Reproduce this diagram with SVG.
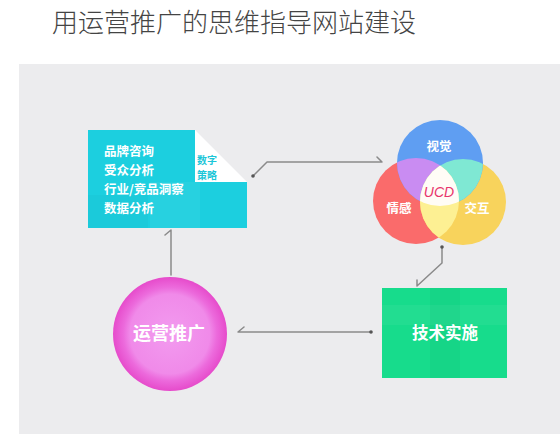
<svg xmlns="http://www.w3.org/2000/svg" width="560" height="440" viewBox="0 0 560 440">
  <style>
    .cjk { font-family: "Noto Sans CJK SC", "Noto Sans", sans-serif; }
    .wb { fill: #ffffff; font-weight: bold; }
    .conn { fill: none; stroke: #8a8a8a; stroke-width: 1.5; stroke-linecap: round; stroke-linejoin: round; }
    .dot { fill: #555555; }
  </style>
  <defs>
    <clipPath id="cR"><circle cx="416" cy="201" r="43"/></clipPath>
    <clipPath id="cY"><circle cx="463" cy="202" r="43"/></clipPath>
    <radialGradient id="pinkG" cx="0.5" cy="0.5" r="0.5">
      <stop offset="0" stop-color="#f29bef"/>
      <stop offset="0.7" stop-color="#f08ae9"/>
      <stop offset="0.82" stop-color="#ec6adc"/>
      <stop offset="1" stop-color="#e64bcb"/>
    </radialGradient>
  </defs>

  <rect x="0" y="0" width="560" height="440" fill="#ffffff"/>
  <text class="cjk" x="52" y="32" font-size="26" font-weight="300" fill="#444444">用运营推广的思维指导网站建设</text>
  <rect x="19" y="64" width="541" height="370" fill="#ececee"/>

  <g id="connectors">
    <polyline class="conn" points="253,176 267,162 382,162 377,157"/>
    <circle class="dot" cx="253" cy="176" r="1.8"/>
    <polyline class="conn" points="371,332 238,332 244,327"/>
    <circle class="dot" cx="371" cy="332" r="1.8"/>
    <polyline class="conn" points="171,275 171,230 165,235"/>
    <polyline class="conn" points="442,247 442,263 417,286 417,280"/>
    <circle class="dot" cx="442" cy="247" r="1.8"/>
  </g>

  <g id="strategy">
    <polygon points="88,130 195,130 195,182 247,182 247,228 88,228" fill="#1ccfdf"/>
    <rect x="150" y="182" width="50" height="46" fill="#ffffff" opacity="0.05"/>
    <rect x="88" y="195" width="60" height="33" fill="#000000" opacity="0.02"/>
    <polygon points="195,130 195,182 247,182" fill="#ffffff"/>
    <text class="cjk wb" font-size="12.5" x="104" y="156">品牌咨询</text>
    <text class="cjk wb" font-size="12.5" x="104" y="175">受众分析</text>
    <text class="cjk wb" font-size="12.5" x="104" y="194">行业/竞品洞察</text>
    <text class="cjk wb" font-size="12.5" x="104" y="213">数据分析</text>
    <text class="cjk" font-size="10" font-weight="bold" fill="#1cc6d8" x="197" y="164">数字</text>
    <text class="cjk" font-size="10" font-weight="bold" fill="#1cc6d8" x="197" y="178.5">策略</text>
  </g>

  <g id="ucd">
    <circle cx="416" cy="201" r="43" fill="#fa6b6b"/>
    <circle cx="463" cy="202" r="43" fill="#f8d35c"/>
    <circle cx="440" cy="163" r="43" fill="#5f9ef2"/>
    <circle cx="440" cy="163" r="43" fill="#c98cf2" clip-path="url(#cR)"/>
    <circle cx="440" cy="163" r="43" fill="#7fe8d3" clip-path="url(#cY)"/>
    <circle cx="416" cy="201" r="43" fill="#fdf093" clip-path="url(#cY)"/>
    <g clip-path="url(#cY)">
      <circle cx="440" cy="163" r="43" fill="#fffcf6" clip-path="url(#cR)"/>
    </g>
    <text class="cjk wb" font-size="12.5" x="439" y="151" text-anchor="middle">视觉</text>
    <text font-family="Liberation Sans, Arial, sans-serif" font-size="14" font-style="italic" fill="#e8356c" x="439" y="197" text-anchor="middle">UCD</text>
    <text class="cjk wb" font-size="12.5" x="399" y="213" text-anchor="middle">情感</text>
    <text class="cjk wb" font-size="12.5" x="477" y="213" text-anchor="middle">交互</text>
  </g>

  <g id="promotion">
    <circle cx="170" cy="334" r="57" fill="url(#pinkG)"/>
    <text class="cjk wb" font-size="18" x="169" y="340" text-anchor="middle">运营推广</text>
  </g>

  <g id="tech">
    <rect x="382" y="288" width="125" height="90" fill="#17dc8c"/>
    <rect x="382" y="305" width="125" height="20" fill="#ffffff" opacity="0.05"/>
    <rect x="430" y="288" width="30" height="90" fill="#000000" opacity="0.03"/>
    <text class="cjk wb" font-size="16.5" x="445" y="339" text-anchor="middle">技术实施</text>
  </g>
</svg>
